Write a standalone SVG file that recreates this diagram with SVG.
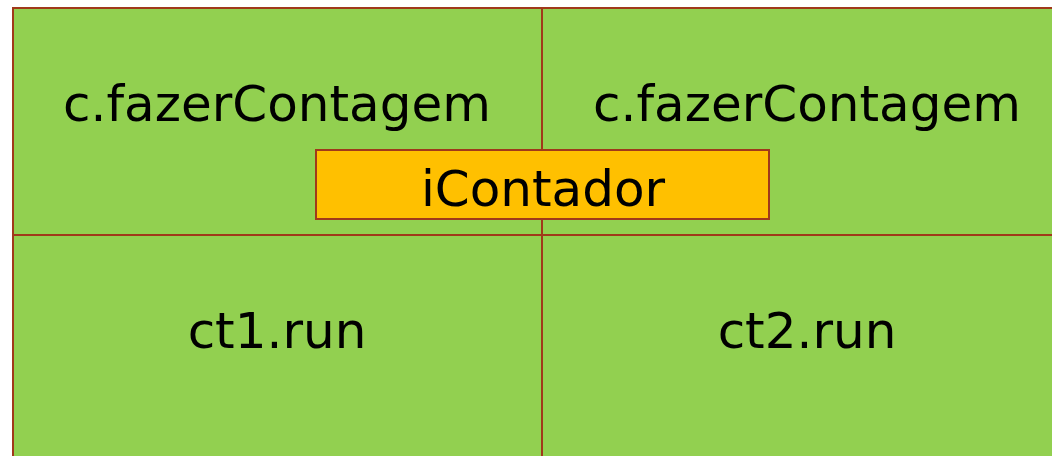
<svg xmlns="http://www.w3.org/2000/svg" width="1052" height="456" viewBox="0 0 1052 456">
<style>
.cell{fill:#92D050;stroke:#A0391A;stroke-width:2}
.box{fill:#FFC000;stroke:#A0391A;stroke-width:2}
.t{font-family:"DejaVu Sans",Verdana,sans-serif;font-size:50px;fill:#000;text-anchor:middle}
</style>
<rect width="1052" height="456" fill="#fff"/>
<g id="cell-tl"><rect class="cell" x="13" y="8" width="529" height="227"/><text class="t" x="277" y="121">c.fazerContagem</text></g>
<g id="cell-tr"><rect class="cell" x="542" y="8" width="530" height="227"/><text class="t" x="807" y="121">c.fazerContagem</text></g>
<g id="cell-bl"><rect class="cell" x="13" y="235" width="529" height="240"/><text class="t" x="277" y="348">ct1.run</text></g>
<g id="cell-br"><rect class="cell" x="542" y="235" width="530" height="240"/><text class="t" x="807" y="348">ct2.run</text></g>
<g id="connectors"></g>
<g id="iContador"><rect class="box" x="316" y="150" width="453" height="69"/><text class="t" x="543" y="206">iContador</text></g>
</svg>
